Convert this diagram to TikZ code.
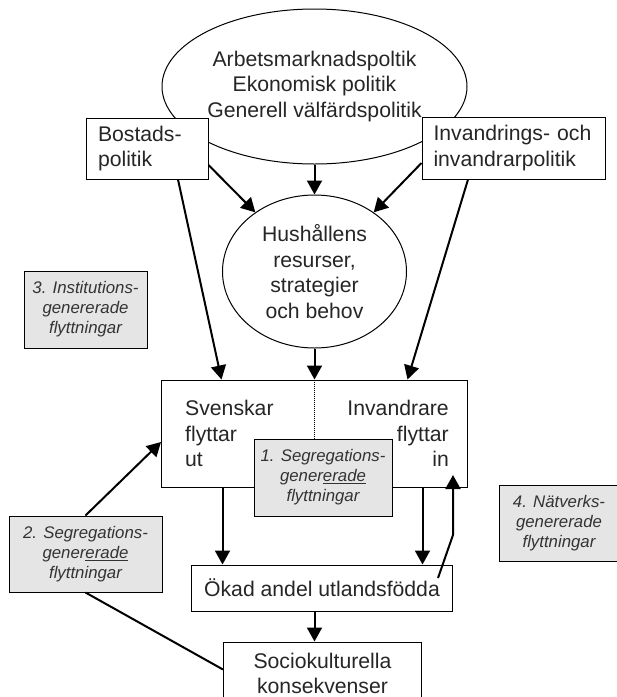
\documentclass[tikz,border=0pt]{standalone}
\usepackage{fontspec}
\setmainfont{Liberation Sans}
\usetikzlibrary{arrows.meta, positioning, shapes.geometric}

\begin{document}
\begin{tikzpicture}[
    x=1pt, y=-1pt,
    big/.style={font=\fontsize{21.2}{25.5}\selectfont, text=black!85},
    policy/.style={ellipse, draw, line width=1pt, fill=white, inner sep=0pt,
                  align=center, big},
    box/.style  ={rectangle, draw, line width=1pt, fill=white, inner sep=0pt,
                  align=center, big},
    flow/.style ={rectangle, draw, line width=1pt, fill=black!10, inner sep=0pt,
                  align=center, text=black!80,
                  font=\fontsize{16.8}{20}\selectfont\itshape},
    txt/.style  ={inner sep=0pt, big},
    arrow/.style={-{Triangle[length=14pt,width=15pt]}, line width=2pt},
    link/.style ={line width=2pt}
]
\useasboundingbox (0,0) rectangle (617,697);

\node[policy, minimum width=305pt, minimum height=155pt] (pol) at (314.5,86.5)
    {Arbetsmarknadspoltik\\Ekonomisk politik\\Generell välfärdspolitik};
\node[box, minimum width=122pt, minimum height=61pt, text width=98pt, align=left]
    (bostad) at (147,148.5) {Bostads-\\politik};
\node[box, minimum width=183pt, minimum height=62pt, text width=160pt, align=left]
    (invpol) at (513.5,148) {Invandrings- och\\invandrarpolitik};
\node[policy, minimum width=184pt, minimum height=153pt, below=30pt of pol] (hush)
    {Hushållens\\resurser,\\strategier\\och behov};
\node[box, minimum width=306pt, minimum height=107pt, below=31pt of hush] (flytt) {};
\node[txt, anchor=west, align=left] (svtxt) at ([xshift=24pt]flytt.west)
    {Svenskar\\flyttar\\ut};
\node[txt, anchor=east, align=right] (invtxt) at ([xshift=-19pt]flytt.east)
    {Invandrare\\flyttar\\in};
\node[flow, minimum width=138pt, minimum height=77pt] (seg1) at (323,477.5)
    {1. Segregations-\\gener\underline{erade}\\flyttningar};
\node[box, minimum width=261pt, minimum height=46pt, below=77pt of flytt, xshift=7.5pt]
    (okad) {Ökad andel utlandsfödda};
\node[box, minimum width=198pt, minimum height=63pt, below=30pt of okad, xshift=0.5pt]
    (socio) {Sociokulturella\\konsekvenser};
\node[flow, minimum width=153pt, minimum height=76pt] (seg2) at (85.5,554)
    {2. Segregations-\\gener\underline{erade}\\flyttningar};
\node[flow, minimum width=123pt, minimum height=77pt] (seg3) at (85.5,309.5)
    {3. Institutions-\\genererade\\flyttningar};
\node[flow, minimum width=120pt, minimum height=76pt] (seg4) at (559,523)
    {4. Nätverks-\\genererade\\flyttningar};

\draw[arrow] (pol) -- (hush);
\draw[arrow] ([yshift=-16.5pt]bostad.east) -- (hush.135);
\draw[arrow] ([yshift=-15pt]invpol.west) -- (hush.45);
\draw[arrow] ([xshift=31pt]bostad.south) -- ([xshift=-93pt]flytt.north);
\draw[arrow] ([xshift=-45.5pt]invpol.south) -- ([xshift=93pt]flytt.north);
\draw[arrow] (hush) -- (flytt);
\draw[densely dotted, line width=1pt] (flytt.north) -- (flytt.north |- seg1.north);
\draw[arrow] ([xshift=-92pt]flytt.south) -- ([xshift=-92pt]flytt.south |- okad.north);
\draw[arrow] ([xshift=108pt]flytt.south) -- ([xshift=108pt]flytt.south |- okad.north);
\draw[arrow] ([xshift=-15pt,yshift=10pt]okad.east) -- ([yshift=53pt]okad.east)
    -- ([yshift=113pt]okad.east);
\draw[arrow] ([xshift=-7.5pt]okad.south) -- ([xshift=-7.5pt]okad.south |- socio.north);
\draw[arrow] (seg2.north) -- ([yshift=-8.5pt]flytt.west);
\draw[link] (seg2.south) -- ([yshift=4pt]socio.west);
\end{tikzpicture}
\end{document}
